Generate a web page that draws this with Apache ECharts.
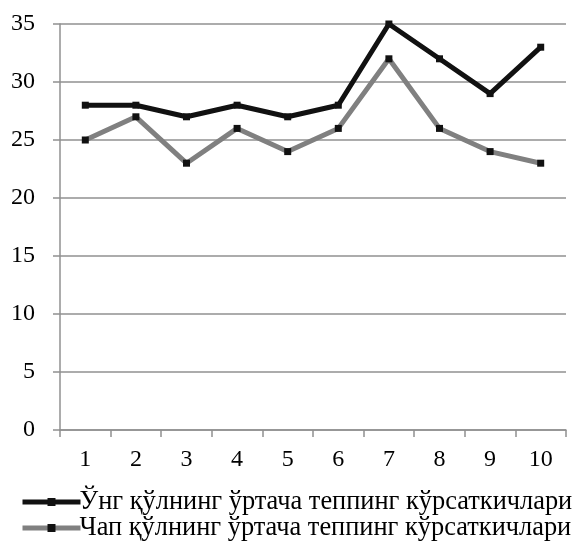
<!DOCTYPE html>
<html>
<head>
<meta charset="utf-8">
<script src="https://cdn.jsdelivr.net/npm/echarts@6/dist/echarts.min.js"></script>
<style>
  html, body { margin: 0; padding: 0; background: #fff; }
  #chart { width: 581px; height: 548px; }
</style>
</head>
<body>
<div id="chart"></div>
<script>
const categories = ["1", "2", "3", "4", "5", "6", "7", "8", "9", "10"];
const rightHand = [28, 28, 27, 28, 27, 28, 35, 32, 29, 33];
const leftHand = [25, 27, 23, 26, 24, 26, 32, 26, 24, 23];
const seriesNames = [
  "Ўнг қўлнинг ўртача теппинг кўрсаткичлари",
  "Чап қўлнинг ўртача теппинг кўрсаткичлари",
];

const font = "Liberation Serif";

const option = {
  animation: false,
  backgroundColor: "#fff",
  textStyle: { fontFamily: font, color: "#000" },
  grid: { left: 60, right: 15, top: 24, bottom: 118 },
  legend: {
    orient: "vertical",
    left: 20,
    top: 489,
    padding: 0,
    itemWidth: 58,
    itemHeight: 10,
    itemGap: 0,
    lineStyle: { width: 5 },
    textStyle: {
      fontFamily: font,
      fontSize: 26.4,
      lineHeight: 22,
      color: "#000",
      padding: [0, 0, 0, -6],
    },
    data: seriesNames,
  },
  xAxis: {
    type: "category",
    data: categories,
    boundaryGap: true,
    axisLine: { lineStyle: { color: "#909090", width: 1.5 } },
    axisTick: { show: true, length: 7, lineStyle: { color: "#909090", width: 1.5 } },
    axisLabel: { fontFamily: font, fontSize: 24, color: "#000", margin: 18 },
  },
  yAxis: {
    type: "value",
    min: 0,
    max: 35,
    interval: 5,
    axisLine: { show: true, lineStyle: { color: "#909090", width: 1.5 } },
    axisTick: { show: true, length: 7, lineStyle: { color: "#909090", width: 1.5 } },
    axisLabel: { fontFamily: font, fontSize: 24, color: "#000", margin: 25 },
    splitLine: { lineStyle: { color: "#909090", width: 1.5 } },
  },
  series: [
    {
      name: seriesNames[0],
      type: "line",
      data: rightHand,
      symbol: "rect",
      symbolSize: 7,
      lineStyle: { color: "#111", width: 5 },
      itemStyle: { color: "#111" },
      z: 3,
    },
    {
      name: seriesNames[1],
      type: "line",
      data: leftHand,
      symbol: "rect",
      symbolSize: 7,
      lineStyle: { color: "#808080", width: 5 },
      itemStyle: { color: "#111" },
      z: 2,
    },
  ],
};

const myChart = echarts.init(document.getElementById("chart"));
myChart.setOption(option);
</script>
</body>
</html>
